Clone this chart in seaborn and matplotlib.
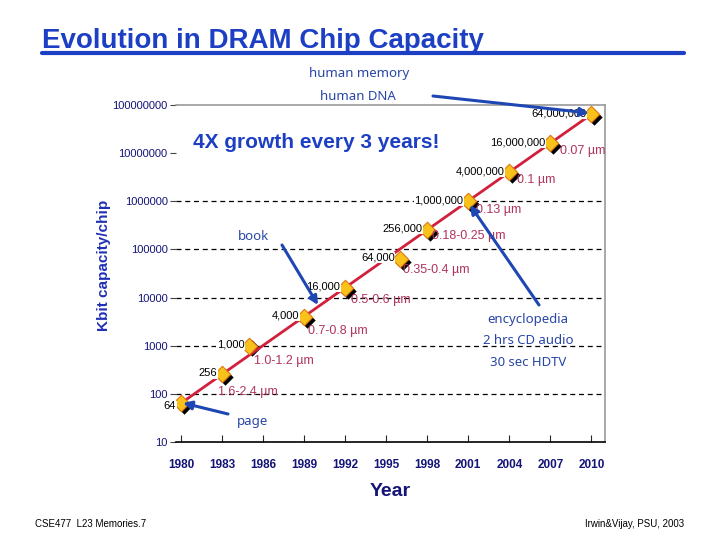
import matplotlib
matplotlib.use("Agg")
import matplotlib.pyplot as plt
import matplotlib.transforms as mtransforms
import seaborn as sns
import pandas as pd

# data
years = [1980, 1983, 1985, 1989, 1992, 1996, 1998, 2001, 2004, 2007, 2010]
kbits = [64, 256, 1000, 4000, 16000, 64000, 256000, 1e6, 4e6, 16e6, 64e6]
count_labels = ["64", "256", "1,000", "4,000", "16,000", "64,000", "256,000",
                "1,000,000", "4,000,000", "16,000,000", "64,000,000"]
feature_sizes = ["", "1.6-2.4 µm", "1.0-1.2 µm", "0.7-0.8 µm", "0.5-0.6 µm",
                 "0.35-0.4 µm", "0.18-0.25 µm", "0.13 µm", "0.1 µm", "0.07 µm", ""]
# pixel offsets of the feature-size labels from their diamond
feature_offsets = [(0, 0), (-4, -18), (5, -15), (4, -14), (6, -12), (3, -11),
                   (5, -6), (8, -9), (8, -8), (10, -8), (0, 0)]

year_ticks = [1980, 1983, 1986, 1989, 1992, 1995, 1998, 2001, 2004, 2007, 2010]
y_ticks = [10, 100, 1000, 10000, 100000, 1000000, 10000000, 100000000]
grid_levels = [100, 1000, 10000, 100000, 1000000]

df = pd.DataFrame({"year": years, "kbit": kbits})
trend = pd.DataFrame({"year": [years[0], years[-1]], "kbit": [kbits[0], kbits[-1]]})

sns.set_style("white")
plt.rcParams["font.family"] = ["Liberation Sans", "DejaVu Sans"]
narrow = ["Liberation Sans Narrow", "Liberation Sans", "DejaVu Sans"]

title_blue = "#1c3fc4"
note_blue = "#2846a6"
arrow_blue = "#1f47b4"
crimson = "#b0345c"
navy = "#141478"

fig = plt.figure(figsize=(7.2, 5.4), dpi=100)
ax = fig.add_axes([176 / 720, 98 / 540, 429 / 720, 337 / 540])
ax.set_yscale("log")
ax.set_xlim(1979.63, 2011.0)
ax.set_ylim(10, 1e8)

for lvl in grid_levels:
    ax.axhline(lvl, color="black", lw=0.9, ls=(0, (4, 3)), zorder=1)

sns.lineplot(data=trend, x="year", y="kbit", color="#d21f3c", lw=2, ax=ax, zorder=3)

# shadow diamonds then yellow diamonds
sns.scatterplot(data=df, x="year", y="kbit", marker="D", s=70, color="black",
                edgecolor="black", linewidth=0, ax=ax, zorder=2)
shadow = ax.collections[-1]
shadow.set_offset_transform(ax.transData + mtransforms.ScaledTranslation(
    2 / 72, -2 / 72, fig.dpi_scale_trans))
sns.scatterplot(data=df, x="year", y="kbit", marker="D", s=70, color="#f9c21a",
                edgecolor="#e07810", linewidth=0.8, ax=ax, zorder=4)

for x, y, lab in zip(years, kbits, count_labels):
    dy = -3 if lab == "64" else 1
    ax.annotate(lab, (x, y), xytext=(-5, dy), textcoords="offset pixels",
                ha="right", va="center", fontsize=8, family=narrow, color="black",
                bbox=dict(boxstyle="square,pad=0.05", fc="white", ec="none"), zorder=5)

for x, y, lab, (dx, dy) in zip(years, kbits, feature_sizes, feature_offsets):
    if lab:
        ax.annotate(lab, (x, y), xytext=(dx, dy), textcoords="offset pixels",
                    ha="left", va="center", fontsize=9, color=crimson, zorder=6)

ax.set_xticks(year_ticks)
ax.set_xticklabels([str(t) for t in year_ticks], family=narrow, fontsize=8.5,
                   color=navy, fontweight="bold")
ax.set_yticks(y_ticks)
ax.set_yticklabels([str(t) for t in y_ticks], family=narrow, fontsize=8, color=navy)
ax.minorticks_off()
ax.tick_params(axis="y", left=True, length=4, width=0.8, color="#444444", pad=2)
ax.tick_params(axis="x", bottom=True, direction="in", length=5, width=0.8, pad=12)

ax.set_xlabel("Year", fontsize=14, fontweight="bold", color=navy, family=narrow, labelpad=9)
ax.set_ylabel("")
fig.text(104 / 720, 1 - 265 / 540, "Kbit capacity/chip", rotation=90, ha="center",
         va="center", fontsize=11, fontweight="bold", color="#2030b4")

for side in ["top", "right"]:
    ax.spines[side].set_color("#999999")
    ax.spines[side].set_linewidth(1.2)
ax.spines["left"].set_visible(False)
ax.spines["bottom"].set_color("black")
ax.spines["bottom"].set_linewidth(1.2)

# title with underline bar
fig.text(42 / 720, 1 - 41 / 540, "Evolution in DRAM Chip Capacity", ha="left",
         va="center", fontsize=20, fontweight="bold", color=title_blue)
fig.add_artist(plt.Line2D([42 / 720, 684 / 720], [1 - 53 / 540, 1 - 53 / 540],
                          color=title_blue, lw=3))

fig.text(316 / 720, 1 - 143 / 540, "4X growth every 3 years!", ha="center",
         va="center", fontsize=15, fontweight="bold", color=title_blue)

note_font = ["Noto Sans", "DejaVu Sans"]
fig.text(359 / 720, 1 - 74 / 540, "human memory", ha="center", va="center",
         fontsize=9.5, color=note_blue, family=note_font)
fig.text(358 / 720, 1 - 96 / 540, "human DNA", ha="center", va="center",
         fontsize=9.5, color=note_blue, family=note_font)
fig.text(253 / 720, 1 - 236 / 540, "book", ha="center", va="center",
         fontsize=9.5, color=note_blue, family=note_font)
fig.text(253 / 720, 1 - 422 / 540, "page", ha="center", va="center",
         fontsize=9.5, color=note_blue, family=note_font)
for i, line in enumerate(["encyclopedia", "2 hrs CD audio", "30 sec HDTV"]):
    fig.text(528 / 720, 1 - (320 + 21 * i) / 540, line, ha="center", va="center",
             fontsize=9.5, color=note_blue, family=note_font)

arrows = [((433, 96), (589, 113)), ((282, 245), (318, 305)),
          ((539, 305), (470, 205)), ((228, 414), (183, 403))]
for (tx, ty), (hx, hy) in arrows:
    ax.annotate("", xy=(hx, 540 - hy), xycoords="figure pixels",
                xytext=(tx, 540 - ty), textcoords="figure pixels",
                arrowprops=dict(arrowstyle="-|>,head_length=0.5,head_width=0.25",
                                color=arrow_blue, lw=2.2, shrinkA=0, shrinkB=0),
                zorder=7, annotation_clip=False)

fig.text(35 / 720, 1 - 524 / 540, "CSE477  L23 Memories.7", ha="left", va="center",
         fontsize=7, family=narrow, color="black")
fig.text(684 / 720, 1 - 524 / 540, "Irwin&Vijay, PSU, 2003", ha="right", va="center",
         fontsize=7, family=narrow, color="black")

fig.savefig("out.png", dpi=100)
